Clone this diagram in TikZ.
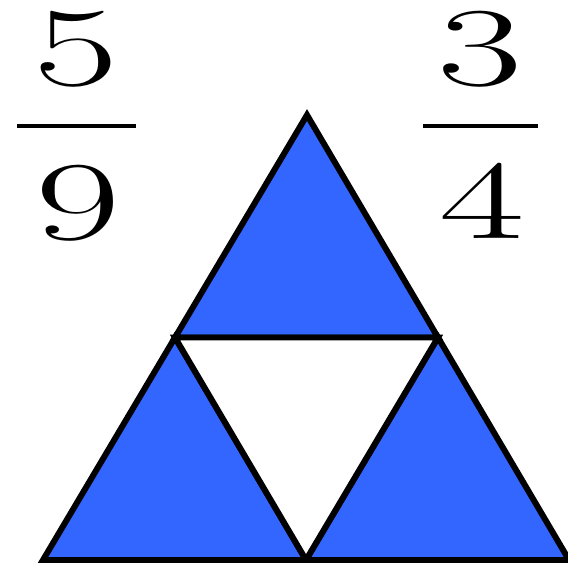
\documentclass[tikz,border=0pt]{standalone}
\usepackage{graphicx}
\usetikzlibrary{calc}

\definecolor{triblue}{HTML}{3366FF}
\newcommand\widedigit[1]{\scalebox{1.65}[1]{#1}}

\begin{document}
\begin{tikzpicture}[
  digit/.style   = {inner sep=0pt, font=\fontsize{32}{32}\selectfont},
                     % the digits are set wide: see \widedigit
  fracbar/.style = {line width=1.3pt},
  part/.style    = {draw, line width=1.7pt, line join=miter, fill=triblue},
  hole/.style    = {draw, line width=1.7pt, line join=miter, fill=white},
]
  \useasboundingbox (0,0) rectangle (5.68,5.63);

  % the three corners of the big triangle, and the midpoints of its sides
  \coordinate (top)   at (3.07,4.48);
  \coordinate (left)  at (0.43,0.03);
  \coordinate (right) at (5.69,0.03);
  \coordinate (ml) at ($(top)!0.5!(left)$);
  \coordinate (mr) at ($(top)!0.5!(right)$);
  \coordinate (mb) at ($(left)!0.5!(right)$);

  \fill[white] (top) -- (left) -- (right) -- cycle;
  \draw[part] (top) -- (ml) -- (mr) -- cycle;
  \draw[part] (ml) -- (left) -- (mb) -- cycle;
  \draw[part] (mr) -- (mb) -- (right) -- cycle;
  \draw[hole] (ml) -- (mr) -- (mb) -- cycle;

  % 5/9 on the left
  \node[digit] (num5) at (0.76,5.14) {\widedigit{5}};
  \node[digit] (den9) at (0.78,3.60) {\widedigit{9}};
  \coordinate (bar5a) at (0.17,4.37);
  \coordinate (bar5b) at (1.36,4.37);
  \draw[fracbar] (bar5a) -- (bar5b);

  % 3/4 on the right
  \node[digit] (num3) at (4.80,5.14) {\widedigit{3}};
  \node[digit] (den4) at (4.82,3.62) {\widedigit{4}};
  \coordinate (bar3a) at (4.23,4.37);
  \coordinate (bar3b) at (5.38,4.37);
  \draw[fracbar] (bar3a) -- (bar3b);
\end{tikzpicture}
\end{document}
